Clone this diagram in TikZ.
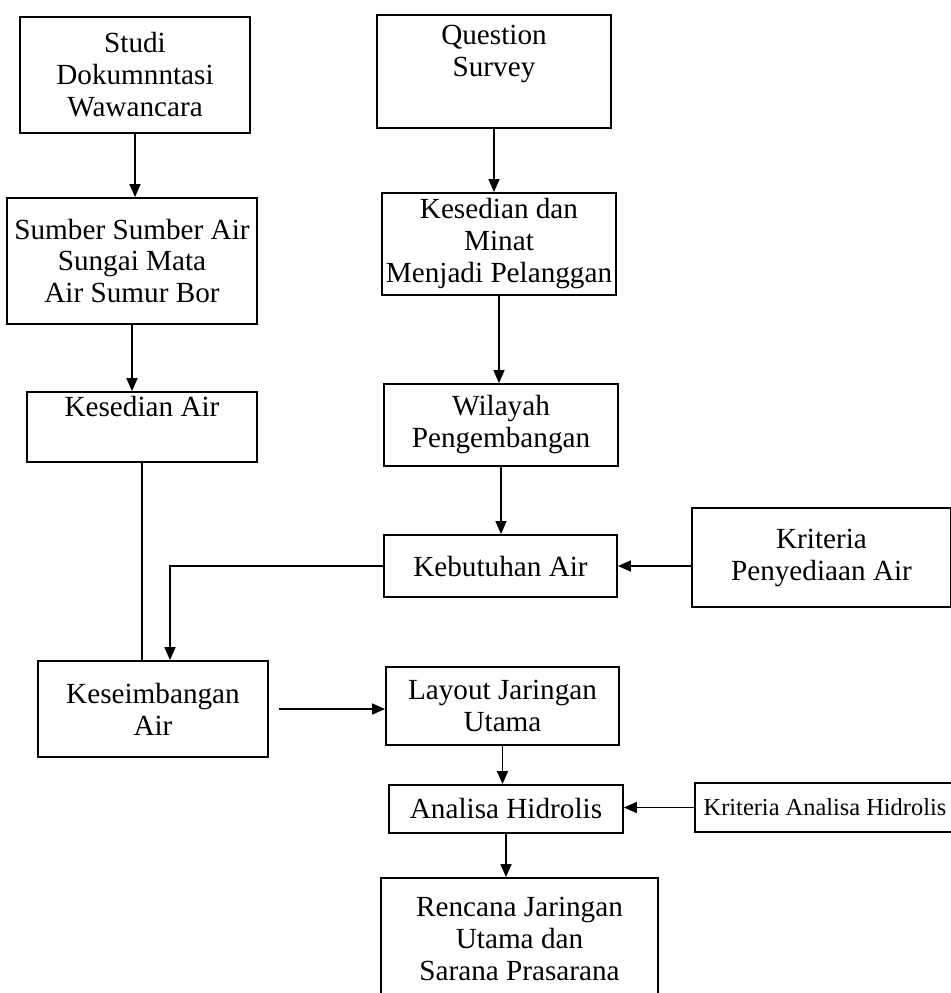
\documentclass[tikz,border=0pt]{standalone}
\usepackage{fontspec}
\setmainfont{Liberation Serif}
\usetikzlibrary{arrows.meta}
\newcommand{\bx}{\fontsize{14.6pt}{16pt}\selectfont}

\begin{document}
\begin{tikzpicture}[x=0.5pt,y=-0.5pt,
   box/.style={draw,line width=0.9pt,align=center,inner sep=0pt,font=\bx},
   >={Triangle[length=6.5pt,width=5.5pt]}]
   \useasboundingbox (0,0) rectangle (951,993);
   % left column
   \node[box,minimum width=115pt,minimum height=58pt] (studi) at (135,75)
      {Studi\\Dokumnntasi\\Wawancara};
   \node[box,minimum width=125pt,minimum height=63pt] (sumber) at (132,261)
      {Sumber Sumber Air\\Sungai Mata\\Air Sumur Bor};
   \node[box,minimum width=115pt,minimum height=35pt] (kesedian) at (142,427)
      {Kesedian Air\\\strut};
   \node[box,minimum width=115pt,minimum height=48pt] (seimbang) at (153,709)
      {Keseimbangan\\Air};
   % middle column
   \node[box,minimum width=117pt,minimum height=56.5pt] (question) at (494,71.5)
      {Question\\Survey\\\strut};
   \node[box,minimum width=117pt,minimum height=51pt] (minat) at (499,244)
      {Kesedian dan\\Minat\\Menjadi Pelanggan};
   \node[box,minimum width=117pt,minimum height=41pt] (wilayah) at (501,425)
      {Wilayah\\Pengembangan};
   \node[box,minimum width=116.5pt,minimum height=31pt] (butuh) at (500.5,566)
      {Kebutuhan Air};
   \node[box,minimum width=116.5pt,minimum height=39pt] (layout) at (502.5,706)
      {Layout Jaringan\\Utama};
   \node[box,minimum width=117pt,minimum height=24pt] (analisa) at (506,809)
      {Analisa Hidrolis};
   \node[box,minimum width=138.5pt,minimum height=61pt] (rencana) at (519.5,939)
      {Rencana Jaringan\\Utama dan\\Sarana Prasarana};
   % right column
   \node[box,minimum width=129.5pt,minimum height=49.5pt] (kriteria) at (821.5,557.5)
      {Kriteria\\Penyediaan Air};
   \node[box,minimum width=130pt,minimum height=24.5pt,
      font=\fontsize{12.2pt}{14pt}\selectfont] (krhidro) at (825,807.5)
      {Kriteria Analisa Hidrolis};
   % connectors
   \draw[line width=0.7pt,->] (studi.south) -- (studi.south |- sumber.north);
   \draw[line width=0.7pt,->] (sumber.south) -- (sumber.south |- kesedian.north);
   \draw[line width=0.7pt] (kesedian.south) -- (kesedian.south |- seimbang.north);
   \draw[line width=0.7pt,->] (butuh.west) -| ([xshift=8.5pt]seimbang.north);
   \draw[line width=0.7pt,->] (kriteria.west |- butuh.east) -- (butuh.east);
   \draw[line width=0.7pt,->] (question.south) -- (question.south |- minat.north);
   \draw[line width=0.7pt,->] (minat.south) -- (minat.south |- wilayah.north);
   \draw[line width=0.7pt,->] (wilayah.south) -- (wilayah.south |- butuh.north);
   \draw[line width=0.7pt,->] ([xshift=5pt]seimbang.east) -- (seimbang.east -| layout.west);
   \draw[line width=0.7pt,->] (layout.south) -- (layout.south |- analisa.north);
   \draw[line width=0.7pt,->] (krhidro.west) -- (krhidro.west -| analisa.east);
   \draw[line width=0.7pt,->] (analisa.south) -- (analisa.south |- rencana.north);
\end{tikzpicture}
\end{document}
